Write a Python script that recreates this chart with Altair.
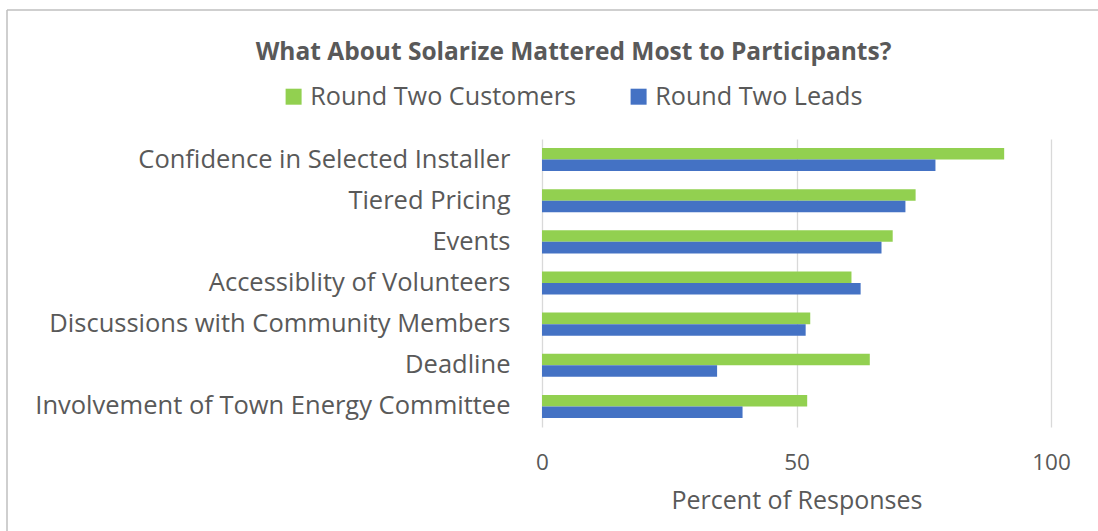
import altair as alt
import pandas as pd

categories = [
    "Confidence in Selected Installer",
    "Tiered Pricing",
    "Events",
    "Accessiblity of Volunteers",
    "Discussions with Community Members",
    "Deadline",
    "Involvement of Town Energy Committee",
]
series = ["Round Two Customers", "Round Two Leads"]
customers = [90.8, 73.4, 68.9, 60.8, 52.7, 64.4, 52.1]
leads = [77.3, 71.4, 66.7, 62.6, 51.8, 34.4, 39.4]
colors = ["#92d050", "#4472c4"]
x_ticks = [0, 50, 100]

rows = []
for c, v in zip(categories, customers):
    rows.append({"category": c, "series": series[0], "value": v})
for c, v in zip(categories, leads):
    rows.append({"category": c, "series": series[1], "value": v})
df = pd.DataFrame(rows)

FONT = "Open Sans"
TXT = "#595959"
FRAME = "#bfbfbf"

bars = alt.Chart(df).mark_bar().encode(
    y=alt.Y("category:N", sort=categories,
            scale=alt.Scale(paddingInner=0.44, paddingOuter=0.22),
            axis=alt.Axis(title=None, domain=False, ticks=False, grid=False,
                          labelFontSize=25.5, labelColor=TXT, labelFont=FONT,
                          labelPadding=32, labelLimit=700)),
    yOffset=alt.YOffset("series:N", sort=series),
    x=alt.X("value:Q", scale=alt.Scale(domain=[0, 100], nice=False),
            axis=alt.Axis(values=x_ticks, title="Percent of Responses", domain=False,
                          ticks=False, grid=True, gridColor="#d9d9d9", gridWidth=1.3,
                          labelFlush=False,
                          labelFontSize=22.5, labelColor=TXT, labelFont=FONT,
                          labelPadding=24, titleFontSize=25, titleColor=TXT,
                          titleFont=FONT, titleFontWeight="normal", titlePadding=15)),
    color=alt.Color("series:N", sort=series,
                    scale=alt.Scale(domain=series, range=colors),
                    legend=alt.Legend(title=None, orient="none", direction="horizontal",
                                      columns=2, legendX=-261, legendY=-55,
                                      symbolType="square", symbolSize=256,
                                      symbolStrokeWidth=0,
                                      labelFontSize=25.2, labelColor=TXT, labelFont=FONT,
                                      labelOffset=4, columnPadding=49, labelLimit=500)),
)

frame_src = alt.Chart(pd.DataFrame({"k": [0]}))
frame_top = frame_src.mark_rule(color=FRAME, strokeWidth=1.5).encode(
    x=alt.value(-535), x2=alt.value(560), y=alt.value(-129))
frame_left = frame_src.mark_rule(color=FRAME, strokeWidth=1.5).encode(
    x=alt.value(-535), y=alt.value(-129), y2=alt.value(400))

chart = alt.layer(bars, frame_top, frame_left).properties(
    width=509,
    height=288,
    background="white",
    title=alt.TitleParams("What About Solarize Mattered Most to Participants?",
                          fontSize=24.5, fontWeight="bold", color=TXT, font=FONT,
                          anchor="middle", dx=-223, dy=72, offset=16),
    autosize=alt.AutoSizeParams(type="none"),
    padding={"left": 542, "top": 139, "right": 47, "bottom": 104},
).configure_view(strokeWidth=0, stroke=None)

chart.save("out.html", embed_options={"renderer": "svg", "actions": False})
